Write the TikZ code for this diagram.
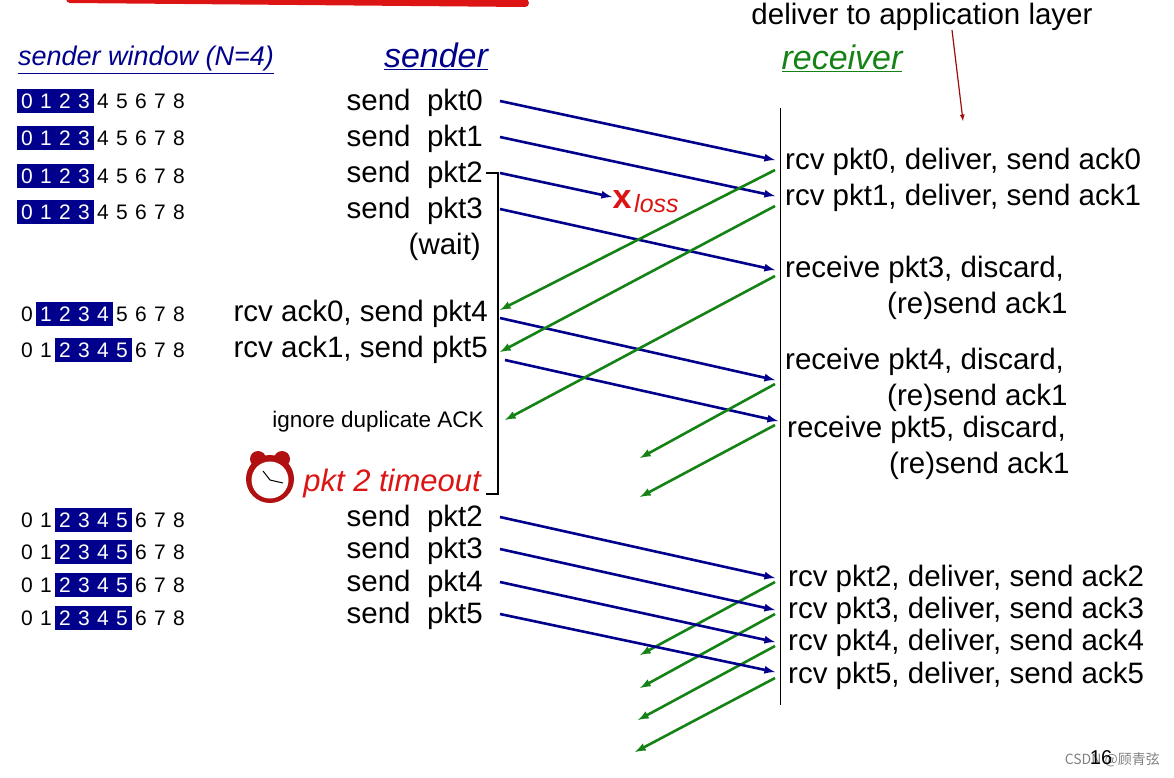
\documentclass[tikz,border=0pt]{standalone}
\usepackage{fontspec}
\setmainfont{Liberation Sans}
\newfontfamily\cjk{Noto Sans CJK SC}
\definecolor{nb}{RGB}{0,0,140}
\definecolor{gg}{RGB}{20,130,20}
\definecolor{rr}{RGB}{220,20,20}
\begin{document}
\begin{tikzpicture}[x=1pt,y=-1pt,
 lbl/.style={font=\fontsize{29.5}{29.5}\selectfont,inner sep=0pt},
 rl/.style={lbl,anchor=west},
 sl/.style={lbl,anchor=east},
 dg/.style={font=\fontsize{21}{21}\selectfont,inner sep=0pt},
 pk/.style={draw=nb,line width=2.6pt,-latex},
 ak/.style={draw=gg,line width=2.6pt,-latex}]
\useasboundingbox (0,0) rectangle (1174,777);
\draw[rr,line width=8pt,line cap=round] (70,-1) -- (525,3);
% headings
\node[font=\itshape\fontsize{27}{27}\selectfont,text=nb,inner sep=1pt] (hw) at (146,60) {\underline{sender window (N=4)}};
\node[font=\itshape\fontsize{34}{34}\selectfont,text=nb,inner sep=1pt] (hs) at (436,56) {\underline{sender}};
\node[font=\itshape\fontsize{34}{34}\selectfont,text=gg,inner sep=1pt] (hr) at (842,58) {\underline{receiver}};
\node[lbl] (dl) at (922,17) {deliver to application layer};
\coordinate (dla) at (952,30); \coordinate (dlb) at (963,121);
\draw[draw={rgb,255:red,160;green,10;blue,10},line width=1.2pt,-latex] (dla) -- (dlb);
% windows
\foreach \y/\s/\e in {101/0/3,138/0/3,176/0/3,212/0/3,314/1/4,350/2/5,520/2/5,552/2/5,585/2/5,618/2/5}{
  \fill[nb] (17+19*\s,\y-12) rectangle (21+19*\e+16,\y+12);
  \foreach \d in {0,...,8}{
    \pgfmathtruncatemacro{\inw}{(\d>=\s)&&(\d<=\e)}
    \ifnum\inw=1 \node[dg,text=white] at (27+19*\d,\y) {\d};
    \else \node[dg] at (27+19*\d,\y) {\d};\fi}
}
% sender labels
\node[sl] (s0) at (483,103) {send\ \ pkt0};
\node[sl] (s1) at (483,139) {send\ \ pkt1};
\node[sl] (s2) at (483,175) {send\ \ pkt2};
\node[sl] (s3) at (483,211) {send\ \ pkt3};
\node[sl] (sw) at (481,247) {(wait)};
\node[sl] (s4) at (488,314) {rcv ack0, send pkt4};
\node[sl] (s5) at (488,350) {rcv ack1, send pkt5};
\node[font=\fontsize{22.5}{22.5}\selectfont,anchor=east,inner sep=0pt] (ig) at (484,422) {ignore duplicate ACK};
\node[font=\itshape\fontsize{31}{31}\selectfont,text=rr,anchor=east,inner sep=0pt] (to) at (481,483) {pkt 2 timeout};
% clock
\fill[rr!80!black] (258,459) circle (8pt) (282,459) circle (8pt);
\node[circle,fill=rr!80!black,minimum size=48pt,inner sep=0pt] (ck) at (270,479) {};
\node[circle,fill=white,minimum size=37pt,inner sep=0pt] (ckf) at (270,480) {};
\draw[line width=1pt] (270,480) -- (263,471) (270,480) -- (283,483);
\node[sl] (t2) at (483,519) {send\ \ pkt2};
\node[sl] (t3) at (483,551) {send\ \ pkt3};
\node[sl] (t4) at (483,584) {send\ \ pkt4};
\node[sl] (t5) at (483,616) {send\ \ pkt5};
% bracket
\coordinate (b1) at (486,173); \coordinate (b2) at (498,173);
\coordinate (b3) at (498,494); \coordinate (b4) at (486,494);
\draw[line width=2.5pt] (b1) -- (b2) -- (b3) -- (b4);
% receiver
\coordinate (rt) at (780,108); \coordinate (rb) at (780,705);
\draw[line width=1pt] (rt) -- (rb);
\node[rl] (r0) at (785,162) {rcv pkt0, deliver, send ack0};
\node[rl] (r1) at (785,198) {rcv pkt1, deliver, send ack1};
\node[rl] (r3) at (785,270) {receive pkt3, discard,};
\node[rl] (r3b) at (887,306) {(re)send ack1};
\node[rl] (r4) at (785,362) {receive pkt4, discard,};
\node[rl] (r4b) at (887,398) {(re)send ack1};
\node[rl] (r5) at (787,430) {receive pkt5, discard,};
\node[rl] (r5b) at (889,466) {(re)send ack1};
\node[rl] (q2) at (788,579) {rcv pkt2, deliver, send ack2};
\node[rl] (q3) at (788,611) {rcv pkt3, deliver, send ack3};
\node[rl] (q4) at (788,643) {rcv pkt4, deliver, send ack4};
\node[rl] (q5) at (788,676) {rcv pkt5, deliver, send ack5};
% loss
\node[font=\bfseries\fontsize{34}{34}\selectfont,text=rr,inner sep=0pt] (x) at (622,200) {x};
\node[font=\itshape\fontsize{25}{25}\selectfont,text=rr,anchor=west,inner sep=0pt] (ls) at (634,204) {loss};
% coordinates for packets
\foreach \n/\x/\y in {a0/500/101,a1/500/137,a2/500/173,a3/500/209,a4/500/318,a5/505/360,
  e0/775/160,e1/775/196,e3/775/270,e4/775/380,e5/778/421,l2/612/197,
  g0/775/170,g1/775/206,g3/775/276,g4/775/384,g5/775/425,
  h0/500/310,h1/500/352,h3/505/420,h4/640/458,h5/640/497,
  c2/500/517,c3/500/549,c4/500/582,c5/500/614,
  d2/775/578,d3/775/610,d4/775/642,d5/775/672,
  u2/775/582,u3/775/614,u4/775/646,u5/775/678,
  v2/640/655,v3/640/688,v4/638/720,v5/635/752}{\coordinate (\n) at (\x,\y);}
\draw[pk] (a0) -- (e0); \draw[pk] (a1) -- (e1); \draw[pk] (a2) -- (l2);
\draw[pk] (a3) -- (e3); \draw[pk] (a4) -- (e4); \draw[pk] (a5) -- (e5);
\draw[ak] (g0) -- (h0); \draw[ak] (g1) -- (h1); \draw[ak] (g3) -- (h3);
\draw[ak] (g4) -- (h4); \draw[ak] (g5) -- (h5);
\foreach \i in {2,3,4,5}{\draw[pk] (c\i) -- (d\i); \draw[ak] (u\i) -- (v\i);}
% footer
\node[font=\cjk\fontsize{14}{14}\selectfont,text=gray,anchor=east,inner sep=0pt] (wm) at (1160,760) {CSDN @顾青弦};
\node[font=\fontsize{20}{20}\selectfont,inner sep=0pt] (pg) at (1101,758) {16};
\end{tikzpicture}
\end{document}
